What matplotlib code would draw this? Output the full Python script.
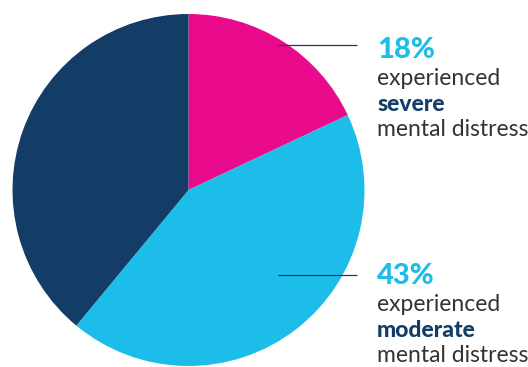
import matplotlib
matplotlib.use("Agg")
import matplotlib.pyplot as plt

labels = ["severe", "moderate", "other"]
values = [18, 43, 39]
colors = ["#EA0A8C", "#1DBDE9", "#133D66"]
pct_labels = ["18%", "43%"]
desc_bold = ["severe", "moderate"]

H = 367
fig = plt.figure(figsize=(5.28, 3.67), dpi=100)
ax = fig.add_axes([0, 0, 1, 1])

ax.pie(values, colors=colors, startangle=90, counterclock=False,
       center=(188.5, H - 190), radius=176, frame=True,
       wedgeprops=dict(linewidth=0))
ax.set_xlim(0, 528)
ax.set_ylim(0, H)
ax.axis("off")

line_col = "#133D66"
txt_col = "#333333"
fam = ["Lato", "DejaVu Sans"]

blocks = [(45, 58), (275, 284)]
for (ly, by), pct, bold in zip(blocks, pct_labels, desc_bold):
    ax.plot([278, 357], [H - ly, H - ly], color=line_col, lw=0.9,
            solid_capstyle="butt")
    ax.text(377, H - by, pct, color="#1DBDE9", fontsize=21, fontweight="black",
            family=fam, va="baseline", ha="left")
    ax.text(377, H - (by + 27), "experienced", color=txt_col, fontsize=16.5,
            family=fam, va="baseline", ha="left")
    ax.text(377, H - (by + 53), bold, color="#133D66", fontsize=16.5,
            fontweight="black", family=fam, va="baseline", ha="left")
    ax.text(377, H - (by + 78.5), "mental distress", color=txt_col, fontsize=16.5,
            family=fam, va="baseline", ha="left")

fig.savefig("out.png", dpi=100)
